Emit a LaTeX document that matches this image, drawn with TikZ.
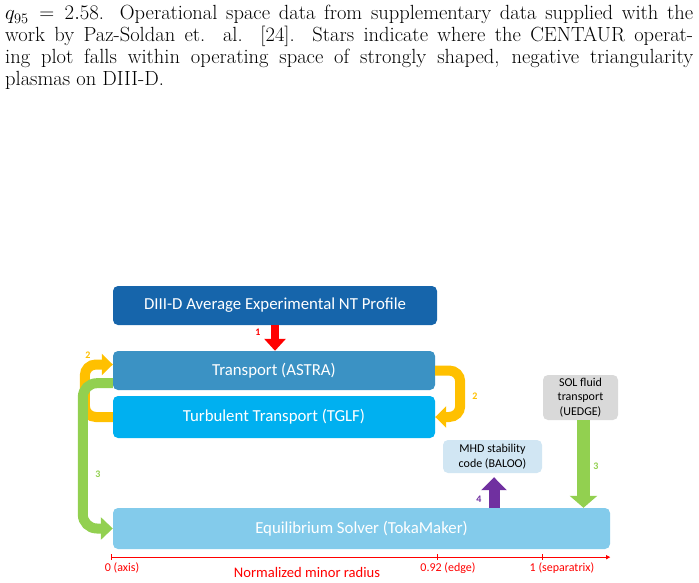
\documentclass[tikz,border=0pt]{standalone}
\usepackage{fontspec}
\newfontfamily\boxfont{Carlito}
\usetikzlibrary{arrows.meta,calc}
\definecolor{cDIII}{RGB}{22,101,171}
\definecolor{cAstra}{RGB}{59,146,196}
\definecolor{cTglf}{RGB}{0,176,240}
\definecolor{cEq}{RGB}{131,203,235}
\definecolor{cMhd}{RGB}{209,230,243}
\definecolor{cSol}{RGB}{217,217,217}
\definecolor{cOr}{RGB}{255,192,0}
\definecolor{cGr}{RGB}{146,208,80}
\definecolor{cPu}{RGB}{112,48,160}
\definecolor{cRed}{RGB}{255,0,0}
\tikzset{
  capline/.style={anchor=base west, inner sep=0pt, font=\fontsize{20.5}{22}\selectfont},
  bigbox/.style={rectangle, rounded corners=5pt, inner sep=0pt, text=white, font=\boxfont\fontsize{16.8}{18}\selectfont},
  smallbox/.style={rectangle, rounded corners=5pt, inner sep=0pt, text=black, align=center, font=\boxfont\fontsize{12}{14.5}\selectfont},
  steplabel/.style={inner sep=0pt, font=\boxfont\bfseries\fontsize{10}{11}\selectfont},
  axlabel/.style={inner sep=0pt, text=cRed, font=\boxfont\fontsize{12}{13}\selectfont},
  loopar/.style={line width=10pt, rounded corners=11pt, -{Triangle[width=21pt,length=11pt]}},
}
\begin{document}
\begin{tikzpicture}[x=1pt,y=-1pt]
\useasboundingbox (0,0) rectangle (699,583);
% caption text
\node[capline] (cap1) at (5,20) {\makebox[688pt][s]{$q_{95}=2.58$. Operational space data from supplementary data supplied with the}};
\node[capline] (cap2) at (5,42) {\makebox[688pt][s]{work by Paz-Soldan et. al. [24]. Stars indicate where the CENTAUR operat-}};
\node[capline] (cap3) at (5,64) {\makebox[688pt][s]{ing plot falls within operating space of strongly shaped, negative triangularity}};
\node[capline] (cap4) at (5,86) {plasmas on DIII-D.};
% boxes
\node[bigbox, fill=cDIII, minimum width=324pt, minimum height=39pt] (diii) at (275,305.5) {DIII-D Average Experimental NT Profile};
\node[bigbox, fill=cAstra, minimum width=322pt, minimum height=39pt] (astra) at (274,370.5) {Transport (ASTRA)};
\node[bigbox, fill=cTglf, minimum width=322pt, minimum height=42pt] (tglf) at (274,417) {Turbulent Transport (TGLF)};
\node[bigbox, fill=cEq, minimum width=497pt, minimum height=41pt] (eq) at (361.5,528.5) {Equilibrium Solver (TokaMaker)};
\node[smallbox, fill=cMhd, minimum width=99pt, minimum height=33pt] (mhd) at (492.5,456.5) {MHD stability\\code (BALOO)};
\node[smallbox, fill=cSol, minimum width=75pt, minimum height=45pt] (sol) at (580.5,397.5) {SOL fluid\\transport\\(UEDGE)};
% arrows
\draw[cRed, line width=8pt, -{Triangle[width=21pt,length=12pt]}] (diii.south) -- (diii.south |- astra.north);
\draw[cOr, loopar] (astra.east) -- ++(25,0) |- (tglf.east);
\draw[cOr, loopar] (tglf.west) -- ++(-28,0) |- ($(astra.west)+(0,-6)$);
\draw[cGr, loopar, rounded corners=14pt, -{Triangle[width=22pt,length=12pt]}] ($(astra.south west)+(0,-7)$) -- ++(-30,0) |- (eq.west);
\draw[cGr, line width=13pt, -{Triangle[width=27pt,length=12pt]}] ($(sol.south)+(3,0)$) -- ($(sol.south |- eq.north)+(3,0)$);
\draw[cPu, line width=11pt, -{Triangle[width=25pt,length=13pt]}] ($(mhd.south |- eq.north)+(1.5,0)$) -- ($(mhd.south)+(1.5,4)$);
% step labels
\node[steplabel, text=cRed] (n1) at (258,332) {1};
\node[steplabel, text=cOr] (n2a) at (88,355) {2};
\node[steplabel, text=cOr] (n2b) at (475,396) {2};
\node[steplabel, text=cGr] (n3a) at (98,474) {3};
\node[steplabel, text=cGr] (n3b) at (596,466) {3};
\node[steplabel, text=cPu] (n4) at (479,499) {4};
% axis
\coordinate (axL) at ($(eq.south west)+(-1,8)$);
\coordinate (axR) at ($(eq.south east)+(0,8)$);
\draw[cRed, line width=0.8pt, -{Triangle[width=4pt,length=4pt]}] (axL) -- (axR);
\coordinate (t1) at (axL);
\coordinate (t2) at ($(axL)+(326,0)$);
\coordinate (t3) at ($(axL)+(431,0)$);
\foreach \t in {t1,t2,t3} \draw[cRed, line width=0.8pt] ($(\t)+(0,-3)$) -- ($(\t)+(0,3)$);
\node[axlabel] (l1) at (122,568) {0 (axis)};
\node[axlabel] (l2) at (448,568) {0.92 (edge)};
\node[axlabel] (l3) at (562,568) {1 (separatrix)};
\node[axlabel, font=\boxfont\fontsize{14.6}{16}\selectfont] (l4) at (307,572) {Normalized minor radius};
\end{tikzpicture}
\end{document}
